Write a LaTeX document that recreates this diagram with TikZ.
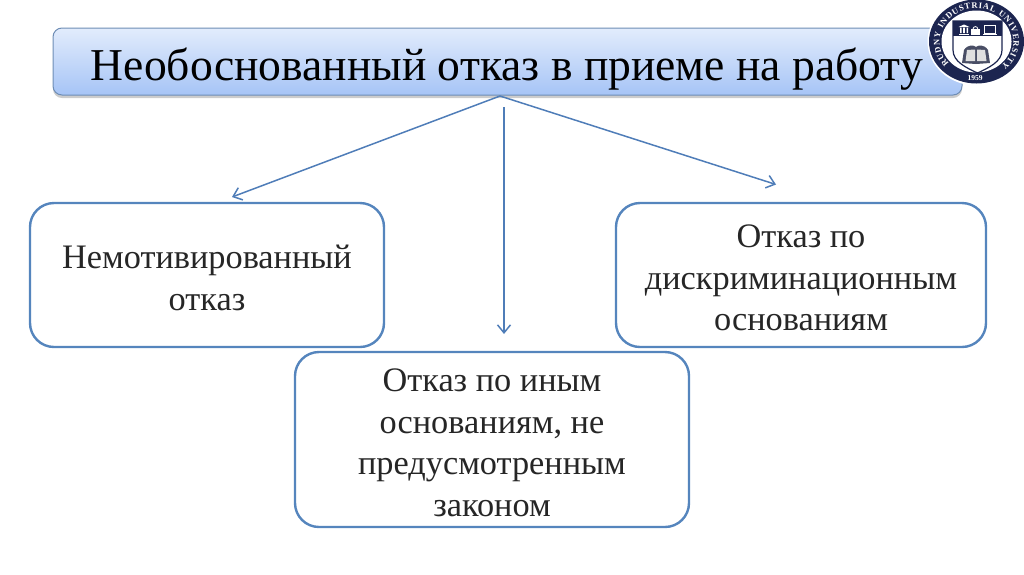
\documentclass[tikz,border=0pt]{standalone}
\usepackage{fontspec}
\setmainfont{Liberation Serif}
\usetikzlibrary{shadows,arrows.meta,decorations.text,calc}
\definecolor{linkblue}{HTML}{4F7DB8}
\definecolor{boxblue}{HTML}{5585BD}
\definecolor{navy}{HTML}{1C2550}
\definecolor{titletop}{HTML}{E2ECFC}
\definecolor{titlebot}{HTML}{A6C4F6}
\definecolor{titleedge}{HTML}{6E8DB5}
\definecolor{itemtext}{HTML}{262626}
\tikzset{
 x=1pt,y=-1pt,
 titlebox/.style={draw=titleedge,line width=1pt,rounded corners=9pt,top color=titletop,bottom color=titlebot,minimum width=909pt,minimum height=67pt,inner sep=0pt,drop shadow={shadow xshift=0pt,shadow yshift=-3pt,opacity=.4}},
 itembox/.style={draw=boxblue,line width=2.4pt,rounded corners=24pt,fill=white,inner sep=0pt},
 itemlabel/.style={align=center,inner sep=0pt,font=\fontsize{34.3}{41.5}\selectfont,text=itemtext},
 link/.style={draw=linkblue,line width=1.5pt,-{Straight Barb[length=8pt,width=13pt,line width=1.5pt]}},
}
\begin{document}
\begin{tikzpicture}
\useasboundingbox (0,0) rectangle (1024,574);
\node[titlebox] (title) at (507.5,61.5) {};
\node[font=\fontsize{45.6}{50}\selectfont,text=black] (titletext) at (507,69) {Необоснованный отказ в приеме на работу};
\node[itembox,minimum width=354pt,minimum height=144pt] (left) at (207,275) {};
\node[itemlabel] (lefttext) at (207,278) {Немотивированный\\отказ};
\node[itembox,minimum width=370pt,minimum height=144pt] (right) at (801,275) {};
\node[itemlabel] (righttext) at (801,278) {Отказ по\\дискриминационным\\основаниям};
\node[itembox,minimum width=394pt,minimum height=175pt] (mid) at (492,439.5) {};
\node[itemlabel] (midtext) at (492,443) {Отказ по иным\\основаниям, не\\предусмотренным\\законом};
\coordinate (apex) at (500,96);
\coordinate (lefttip) at (232,197);
\coordinate (righttip) at (776,184.5);
\coordinate (midstart) at (504,107);
\coordinate (midtip) at (504,334);
\draw[link] (apex) -- (lefttip);
\draw[link] (apex) -- (righttip);
\draw[link] (midstart) -- (midtip);
% logo
\fill[white] (976.5,41.5) ellipse[x radius=49pt,y radius=44pt];
\fill[navy] (976.5,41.5) ellipse[x radius=47.5pt,y radius=42pt];
\fill[white] (976.5,41.5) ellipse[x radius=35pt,y radius=31pt];
% shield
\fill[navy] (953,21) -- (1002,21) -- (1002,36) -- (953,36) -- cycle;
\draw[navy,line width=1.2pt] (953,21) -- (1002,21) -- (1002,50) .. controls (1002,62) and (988,68) .. (977.5,73) .. controls (967,68) and (953,62) .. (953,50) -- cycle;
% icons
\fill[white] (958.5,27) -- (964,24.5) -- (969.5,27) -- cycle;
\fill[white] (959,33.5) rectangle (969,35);
\fill[white] (960,27.5) rectangle (961.5,33) (963.2,27.5) rectangle (964.8,33) (966.5,27.5) rectangle (968,33);
\fill[white] (971,29) rectangle (980,35);
\draw[white,line width=.8pt] (973,29) arc[start angle=180,end angle=0,radius=2.4pt];
\draw[white,line width=.8pt] (984.5,25) rectangle (995,33);
\fill[white] (983,33.5) rectangle (996.5,35);
% book
\fill[navy!55!gray] (964,50) .. controls (968,44) and (974,45) .. (976,47) .. controls (978,45) and (984,44) .. (988,50) -- (990,63) -- (976,64) -- (962,63) -- cycle;
\fill[white!75!gray] (967,50) -- (975,49.5) -- (975,61) -- (965.5,61) -- cycle;
\fill[white!75!gray] (985,50) -- (977,49.5) -- (977,61) -- (986.5,61) -- cycle;
% ring text
\path[postaction={decorate,decoration={text along path,text align={fit to path},text={|\fontsize{8.5}{8.5}\selectfont\bfseries\color{white}|RUDNY INDUSTRIAL UNIVERSITY}}}]
  (949,63.6) arc[start angle=222,end angle=-48,x radius=37pt,y radius=33pt];
\node[font=\fontsize{7.5}{7.5}\selectfont\bfseries,text=white] (year) at (975,78) {1959};
\end{tikzpicture}
\end{document}
